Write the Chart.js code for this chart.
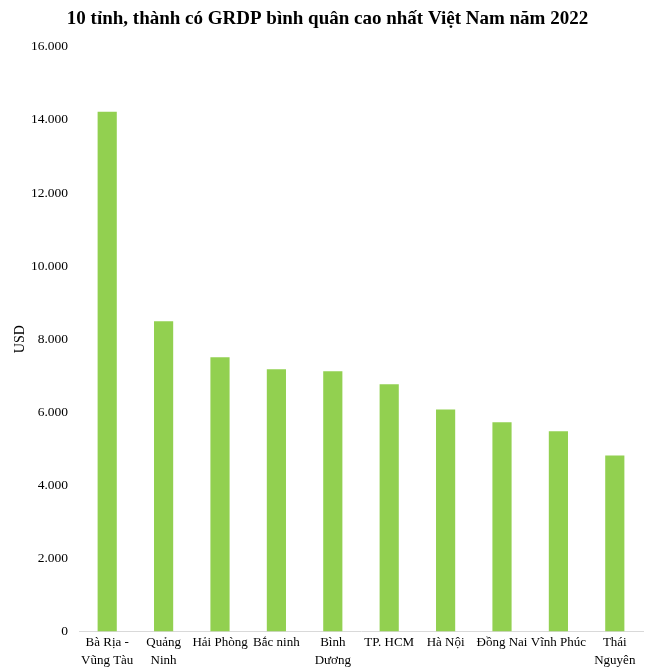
<!DOCTYPE html>
<html>
<head>
<meta charset="utf-8">
<script src="https://cdn.jsdelivr.net/npm/chart.js@4/dist/chart.umd.min.js"></script>
<style>
  html, body { margin: 0; padding: 0; background: #fff; }
  #wrap { width: 655px; height: 672px; position: relative; }
</style>
</head>
<body>
<div id="wrap"><canvas id="grdp-chart"></canvas></div>
<script>
// ─── Data ─────────────────────────────────────────────────────
const provinces = [
  ['Bà Rịa -', 'Vũng Tàu'],
  ['Quảng', 'Ninh'],
  'Hải Phòng',
  'Bắc ninh',
  ['Bình', 'Dương'],
  'TP. HCM',
  'Hà Nội',
  'Đồng Nai',
  'Vĩnh Phúc',
  ['Thái', 'Nguyên'],
];
const grdpUsd = [14220, 8490, 7505, 7180, 7125, 6770, 6080, 5725, 5480, 4820];
const yTicks = [0, 2000, 4000, 6000, 8000, 10000, 12000, 14000, 16000];

const SERIF = "'Liberation Serif', 'Times New Roman', serif";

function fmtThousands(v) {
  return String(v).replace(/\B(?=(\d{3})+(?!\d))/g, '.');
}

// ─── Chart ────────────────────────────────────────────────────
const ctx = document.getElementById('grdp-chart').getContext('2d');
new Chart(ctx, {
  type: 'bar',
  data: {
    labels: provinces,
    datasets: [{
      label: 'GRDP bình quân',
      data: grdpUsd,
      backgroundColor: '#92D050',
      barPercentage: 0.34,
      categoryPercentage: 1,
    }],
  },
  options: {
    responsive: true,
    maintainAspectRatio: false,
    animation: false,
    // equal side padding keeps the title centred on the canvas
    layout: { padding: { left: 12, right: 12, top: 0, bottom: 0 } },
    plugins: {
      legend: { display: false },
      tooltip: { enabled: false },
      title: {
        display: true,
        text: '10 tỉnh, thành có GRDP bình quân cao nhất Việt Nam năm 2022',
        color: '#000',
        font: { family: SERIF, size: 19, weight: 'bold' },
        padding: { top: 8, bottom: 16 },
      },
    },
    scales: {
      x: {
        grid: { display: false, drawTicks: false },
        border: { display: true, color: '#d9d9d9', width: 1 },
        ticks: {
          color: '#000',
          autoSkip: false,
          maxRotation: 0,
          minRotation: 0,
          padding: 2,
          font: { family: SERIF, size: 13, lineHeight: 1.4 },
        },
      },
      y: {
        min: 0,
        max: 16000,
        afterBuildTicks: scale => { scale.ticks = yTicks.map(v => ({ value: v })); },
        afterFit: scale => { scale.width = 67; },
        grid: { display: false, drawTicks: false },
        border: { display: false },
        ticks: {
          color: '#000',
          padding: 11,
          font: { family: SERIF, size: 13.5 },
          callback: v => fmtThousands(v),
        },
        title: {
          display: true,
          text: 'USD',
          color: '#000',
          font: { family: SERIF, size: 14 },
          padding: { top: 0, bottom: 0 },
        },
      },
    },
  },
});
</script>
</body>
</html>
